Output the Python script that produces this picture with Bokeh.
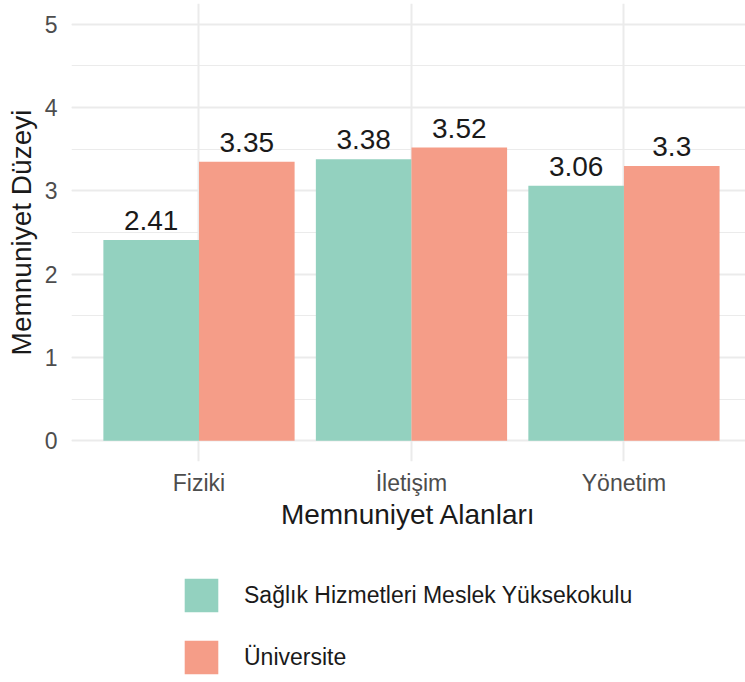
from bokeh.plotting import figure
from bokeh.layouts import column
from bokeh.models import (Range1d, SingleIntervalTicker, FixedTicker, ColumnDataSource,
                          Legend, LegendItem, LabelSet)
from bokeh.transform import dodge
from bokeh.embed import file_html
from bokeh.resources import INLINE
from bokeh.core.properties import value

categories = ["Fiziki", "İletişim", "Yönetim"]
series = ["Sağlık Hizmetleri Meslek Yüksekokulu", "Üniversite"]
shmyo = [2.41, 3.38, 3.06]
universite = [3.35, 3.52, 3.30]
labels_shmyo = ["2.41", "3.38", "3.06"]
labels_uni = ["3.35", "3.52", "3.3"]
colors = ["#93D1BF", "#F59D88"]

FONT = "Liberation Sans"
pos = list(range(1, len(categories) + 1))
src = ColumnDataSource(dict(x=pos, a=shmyo, b=universite, la=labels_shmyo, lb=labels_uni))

p = figure(width=745, height=560, output_backend="svg", toolbar_location=None,
           x_range=Range1d(0.4, 3.572), y_range=Range1d(-0.25, 5.25),
           min_border_left=71, min_border_right=0, min_border_top=3, min_border_bottom=99)
p.outline_line_color = None
p.background_fill_color = "white"

r1 = p.vbar(x=dodge("x", -0.225), top="a", width=0.45, source=src,
            fill_color=colors[0], line_color=None)
r2 = p.vbar(x=dodge("x", 0.225), top="b", width=0.45, source=src,
            fill_color=colors[1], line_color=None)

for off, col, lab in [(-0.225, "a", "la"), (0.225, "b", "lb")]:
    ls = LabelSet(x=dodge("x", off), y=col, text=lab, source=src,
                  text_align="center", text_baseline="alphabetic", y_offset=10,
                  text_font_size=value("28px"), text_font=value(FONT),
                  text_color=value("#1A1A1A"))
    p.add_layout(ls)

# grids
p.xgrid.ticker = FixedTicker(ticks=pos)
p.xgrid.grid_line_color = "#EBEBEB"
p.xgrid.grid_line_width = 2
p.ygrid.grid_line_color = "#EBEBEB"
p.ygrid.grid_line_width = 2
p.ygrid.minor_grid_line_color = "#EBEBEB"
p.ygrid.minor_grid_line_width = 1

# axes
p.xaxis.ticker = FixedTicker(ticks=pos)
p.xaxis.major_label_overrides = {i: c for i, c in zip(pos, categories)}
p.yaxis.ticker = SingleIntervalTicker(interval=1, num_minor_ticks=2)
p.xaxis.axis_label = "Memnuniyet Alanları"
p.yaxis.axis_label = "Memnuniyet Düzeyi"
for ax in p.axis:
    ax.axis_line_color = None
    ax.major_tick_line_color = None
    ax.minor_tick_line_color = None
    ax.major_label_text_font = FONT
    ax.major_label_text_font_size = "23px"
    ax.major_label_text_color = "#4D4D4D"
    ax.axis_label_text_font = FONT
    ax.axis_label_text_font_size = "28px"
    ax.axis_label_text_font_style = "normal"
    ax.axis_label_text_color = "#1A1A1A"
p.xaxis.major_label_standoff = 2
p.xaxis.axis_label_standoff = 0
p.yaxis.major_label_standoff = 8
p.yaxis.axis_label_standoff = 5

# legend panel below the chart (its bars lie outside its own view)
leg = figure(width=745, height=122, output_backend="svg", toolbar_location=None,
             x_range=Range1d(0, 1), y_range=Range1d(10, 11),
             min_border=0, outline_line_color=None)
leg.axis.visible = False
leg.grid.visible = False
g1 = leg.vbar(x="x", top="a", width=0.1, source=src, fill_color=colors[0], line_color=None)
g2 = leg.vbar(x="x", top="b", width=0.1, source=src, fill_color=colors[1], line_color=None)
legend = Legend(items=[LegendItem(label=series[0], renderers=[g1]),
                       LegendItem(label=series[1], renderers=[g2])],
                location=(109, 122 - 14 - 104), orientation="vertical",
                glyph_width=42, glyph_height=42, label_height=42, spacing=20,
                label_standoff=22, padding=0, margin=0,
                border_line_color=None, background_fill_alpha=0,
                label_text_font_size="23px", label_text_font=FONT,
                label_text_color="#1A1A1A")
leg.add_layout(legend, "center")

open("out.html", "w").write(file_html(column(p, leg), INLINE))
